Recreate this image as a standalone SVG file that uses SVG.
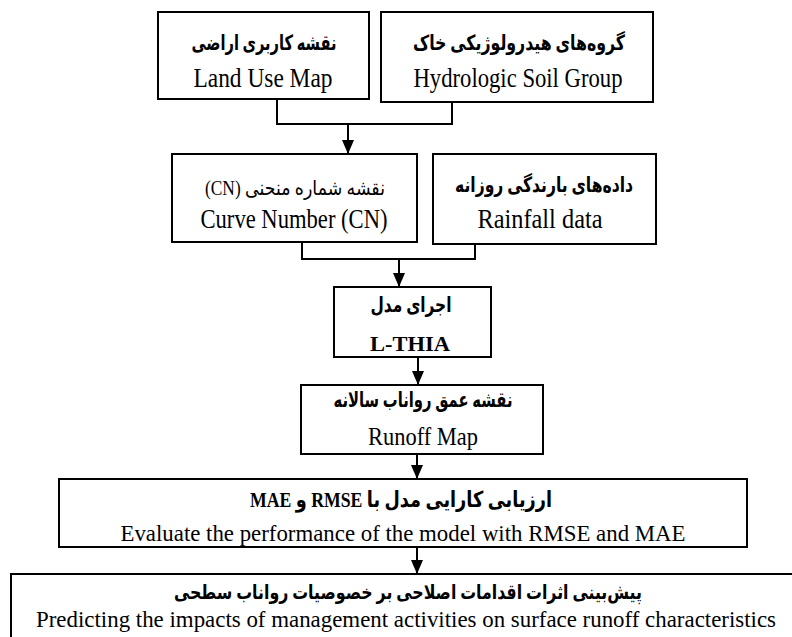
<svg xmlns="http://www.w3.org/2000/svg" width="792" height="637" viewBox="0 0 792 637">
<style>
.box{fill:#fff;stroke:#000;stroke-width:2}
.en{font-family:"Liberation Serif","Times New Roman",serif;font-size:27px;fill:#000;text-anchor:middle}
.fa{font-family:"Liberation Serif","DejaVu Sans",serif;font-size:21px;font-weight:bold;fill:#000;text-anchor:middle;direction:rtl;unicode-bidi:embed}
.far{font-weight:normal}
.b{font-weight:bold}
</style>
<defs>
<marker id="arrow" markerUnits="userSpaceOnUse" markerWidth="14" markerHeight="14" viewBox="0 0 14 14" refX="14" refY="7" orient="auto">
<path d="M0,1 L14,7 L0,13 z" fill="#000"/>
</marker>
</defs>
<rect width="792" height="637" fill="#fff"/>
<g id="connectors" fill="none" stroke="#000" stroke-width="2">
<polyline points="277,99 277,124 452,124 452,102"/>
<line x1="348" y1="124" x2="348" y2="154" marker-end="url(#arrow)"/>
<polyline points="302,242 302,259 475,259 475,244"/>
<line x1="399" y1="259" x2="399" y2="287" marker-end="url(#arrow)"/>
<line x1="418" y1="357" x2="418" y2="385" marker-end="url(#arrow)"/>
<line x1="417" y1="454" x2="417" y2="479" marker-end="url(#arrow)"/>
<line x1="417" y1="547" x2="417" y2="574" marker-end="url(#arrow)"/>
</g>
<g id="landuse">
<rect class="box" x="158" y="12" width="211" height="87"/>
<text class="fa" x="264" y="50" direction="rtl" textLength="145" lengthAdjust="spacingAndGlyphs">نقشه کاربری اراضی</text>
<text class="en" x="263" y="87" textLength="139" lengthAdjust="spacingAndGlyphs">Land Use Map</text>
</g>
<g id="soil">
<rect class="box" x="381" y="12" width="272" height="90"/>
<text class="fa" x="519" y="50" direction="rtl" textLength="212" lengthAdjust="spacingAndGlyphs">گروه‌های هیدرولوژیکی خاک</text>
<text class="en" x="518" y="87" textLength="209" lengthAdjust="spacingAndGlyphs">Hydrologic Soil Group</text>
</g>
<g id="cn">
<rect class="box" x="172" y="154" width="245" height="88"/>
<text class="fa far" x="295" y="195" direction="rtl" style="font-size:20px" textLength="180" lengthAdjust="spacingAndGlyphs">نقشه شماره منحنی (CN)</text>
<text class="en" x="294" y="228" textLength="187" lengthAdjust="spacingAndGlyphs">Curve Number (CN)</text>
</g>
<g id="rainfall">
<rect class="box" x="433" y="154" width="223" height="90"/>
<text class="fa" x="544" y="192" direction="rtl" textLength="178" lengthAdjust="spacingAndGlyphs">داده‌های بارندگی روزانه</text>
<text class="en" x="540" y="228" textLength="125" lengthAdjust="spacingAndGlyphs">Rainfall data</text>
</g>
<g id="lthia">
<rect class="box" x="334" y="287" width="157" height="70"/>
<text class="fa" x="411" y="312" direction="rtl" textLength="81" lengthAdjust="spacingAndGlyphs">اجرای مدل</text>
<text class="en b" x="410" y="351" style="font-size:21px" textLength="80" lengthAdjust="spacingAndGlyphs">L-THIA</text>
</g>
<g id="runoff">
<rect class="box" x="301" y="385" width="242" height="69"/>
<text class="fa" x="423" y="407" direction="rtl" textLength="179" lengthAdjust="spacingAndGlyphs">نقشه عمق رواناب سالانه</text>
<text class="en" x="423" y="445" style="font-size:26px" textLength="110" lengthAdjust="spacingAndGlyphs">Runoff Map</text>
</g>
<g id="evaluate">
<rect class="box" x="59" y="479" width="688" height="68"/>
<text class="fa" x="401" y="507" direction="rtl" style="font-size:22px" textLength="302" lengthAdjust="spacingAndGlyphs">ارزیابی کارایی مدل با RMSE و MAE</text>
<text class="en" x="403" y="541" style="font-size:24px" textLength="565" lengthAdjust="spacingAndGlyphs">Evaluate the performance of the model with RMSE and MAE</text>
</g>
<g id="predict">
<path class="box" fill="none" d="M792,574 H11 V637"/>
<text class="fa" x="408" y="599" direction="rtl" style="font-size:20px" textLength="468" lengthAdjust="spacingAndGlyphs">پیش‌بینی اثرات اقدامات اصلاحی بر خصوصیات رواناب سطحی</text>
<text class="en" x="406" y="627" style="font-size:23px" textLength="740" lengthAdjust="spacingAndGlyphs">Predicting the impacts of management activities on surface runoff characteristics</text>
</g>
</svg>
